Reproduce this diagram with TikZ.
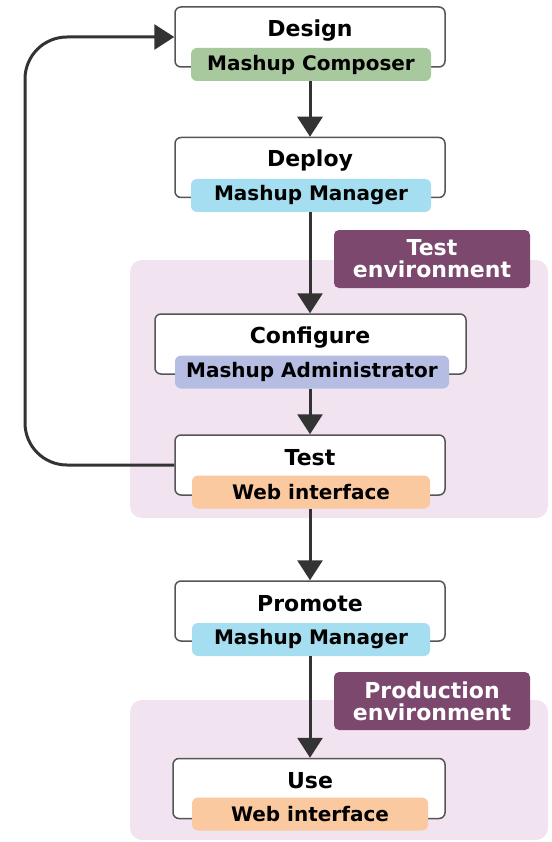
\documentclass[tikz,border=0pt]{standalone}
\usepackage{fontspec}
\setmainfont{DejaVu Sans}
\usetikzlibrary{arrows.meta}
\definecolor{pinkbg}{RGB}{241,228,240}
\definecolor{envlbl}{RGB}{124,72,110}
\definecolor{pgreen}{RGB}{168,200,158}
\definecolor{pblue}{RGB}{165,222,240}
\definecolor{plav}{RGB}{182,189,226}
\definecolor{ppeach}{RGB}{251,201,160}
\definecolor{edge}{RGB}{85,85,85}
\definecolor{flowc}{RGB}{51,51,51}
\begin{document}
\begin{tikzpicture}[x=1pt,y=-1pt,
  region/.style={fill=pinkbg,draw=none,rounded corners=12pt},
  stepbox/.style={draw=edge,line width=1.5pt,fill=white,rounded corners=6pt,minimum height=60pt,inner sep=0pt},
  steptitle/.style={font=\bfseries\fontsize{22}{24}\selectfont,inner sep=0pt,text=black},
  pill/.style={rounded corners=6pt,minimum height=33pt,inner sep=0pt,font=\bfseries\fontsize{20}{22}\selectfont,text=black},
  envlabel/.style={fill=envlbl,rounded corners=5pt,text=white,align=center,minimum width=196pt,minimum height=58pt,inner sep=0pt,font=\bfseries\fontsize{22}{22}\selectfont},
  flow/.style={draw=flowc,line width=3pt,-{Triangle[width=25pt,length=20pt]}}]
\useasboundingbox (0,0) rectangle (551,842);
% environment regions
\fill[region] (130,260) rectangle (548,518);
\fill[region] (130,700) rectangle (548,840);
\node[envlabel] (testenv) at (432,259) {Test\\environment};
\node[envlabel] (prodenv) at (432,701) {Production\\environment};
% steps
\node[stepbox,minimum width=270pt] (design) at (310,37) {};
\node[steptitle] (designt) at (310,31) {Design};
\node[pill,fill=pgreen,minimum width=240pt] (designp) at (311,64.5) {Mashup Composer};

\node[stepbox,minimum width=270pt] (deploy) at (310,167.5) {};
\node[steptitle] (deployt) at (310,161) {Deploy};
\node[pill,fill=pblue,minimum width=240pt] (deployp) at (311,195.5) {Mashup Manager};

\node[stepbox,minimum width=311pt] (config) at (310.5,344) {};
\node[steptitle] (configt) at (310,338) {Configure};
\node[pill,fill=plav,minimum width=274pt] (configp) at (312,372) {Mashup Administrator};

\node[stepbox,minimum width=270pt] (test) at (310,465) {};
\node[steptitle] (testt) at (310,458) {Test};
\node[pill,fill=ppeach,minimum width=238pt] (testp) at (311,492) {Web interface};

\node[stepbox,minimum width=270pt] (promote) at (310,611) {};
\node[steptitle] (promotet) at (310,604) {Promote};
\node[pill,fill=pblue,minimum width=238pt] (promotep) at (311,639.5) {Mashup Manager};

\node[stepbox,minimum width=272pt] (use) at (309,788.5) {};
\node[steptitle] (uset) at (310,781) {Use};
\node[pill,fill=ppeach,minimum width=236pt] (usep) at (310,814) {Web interface};
% connectors
\draw[flow] (designp.south -| design.south) -- (deploy.north);
\draw[flow] (deployp.south -| deploy.south) -- (config.north -| deploy.north);
\draw[flow] (configp.south -| test.north) -- (test.north);
\draw[flow] (testp.south -| test.south) -- (promote.north);
\draw[flow] (promotep.south -| promote.south) -- (use.north -| promote.north);
\coordinate (loopx) at (25,0);
\draw[flow,rounded corners=42pt] (test.west) -- (test.west -| loopx) -- (design.west -| loopx) -- (design.west);
\end{tikzpicture}
\end{document}
